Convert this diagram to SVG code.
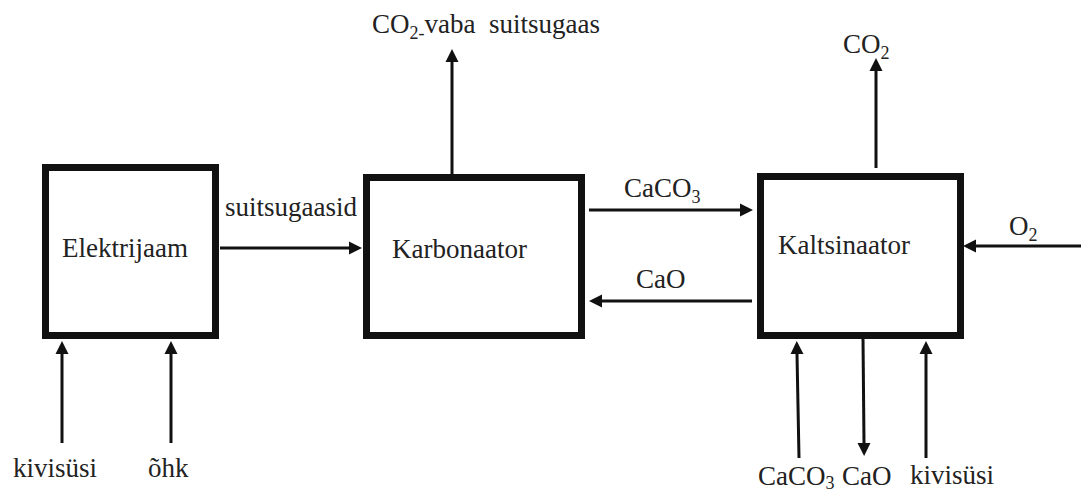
<svg xmlns="http://www.w3.org/2000/svg" width="1081" height="491" viewBox="0 0 1081 491">
<defs>
<style>
.box{fill:#fff;stroke:#111;stroke-width:7}
.ln{fill:none;stroke:#111;stroke-width:3;marker-end:url(#ah)}
.t{font-family:'Liberation Serif',Tinos,'Times New Roman',Times,serif;font-size:27px;fill:#222}
.sub{font-size:18px}
</style>
<marker id="ah" markerUnits="userSpaceOnUse" markerWidth="14" markerHeight="14" viewBox="0 -7 14 14" refX="0" refY="0" orient="auto">
<path d="M0,-6.5 L13,0 L0,6.5 z" fill="#111"/>
</marker>
</defs>
<rect width="1081" height="491" fill="#fff"/>
<g id="elektrijaam">
<rect class="box" x="45.5" y="167.5" width="170" height="168"/>
<text class="t" x="62" y="257">Elektrijaam</text>
</g>
<g id="karbonaator">
<rect class="box" x="366.5" y="177.5" width="215" height="158"/>
<text class="t" x="392" y="258">Karbonaator</text>
</g>
<g id="kaltsinaator">
<rect class="box" x="760.5" y="176.5" width="200" height="159"/>
<text class="t" x="778" y="254">Kaltsinaator</text>
</g>
<g id="connectors">
<line class="ln" x1="220" y1="248" x2="349" y2="248"/>
<line class="ln" x1="452" y1="174" x2="452" y2="62"/>
<line class="ln" x1="589" y1="210" x2="740" y2="210"/>
<line class="ln" x1="752" y1="301" x2="602" y2="301"/>
<line class="ln" x1="876" y1="168" x2="876" y2="71"/>
<line class="ln" x1="1081" y1="246" x2="976" y2="246"/>
<line class="ln" x1="799" y1="458" x2="797" y2="354"/>
<line class="ln" x1="863" y1="338" x2="864" y2="443"/>
<line class="ln" x1="926" y1="458" x2="926" y2="354"/>
<line class="ln" x1="62" y1="443" x2="62" y2="354"/>
<line class="ln" x1="171" y1="443" x2="171" y2="354"/>
</g>
<g id="labels">
<text class="t" x="225" y="216">suitsugaasid</text>
<text class="t" x="372" y="33">CO<tspan class="sub" dy="6">2-</tspan><tspan dy="-6">vaba&#160; suitsugaas</tspan></text>
<text class="t" x="624" y="197">CaCO<tspan class="sub" dy="6">3</tspan></text>
<text class="t" x="636" y="288">CaO</text>
<text class="t" x="843" y="53">CO<tspan class="sub" dy="6">2</tspan></text>
<text class="t" x="1009" y="235">O<tspan class="sub" dy="6">2</tspan></text>
<text class="t" x="758" y="485">CaCO<tspan class="sub" dy="4">3</tspan></text>
<text class="t" x="842" y="485">CaO</text>
<text class="t" x="910" y="484">kivisüsi</text>
<text class="t" x="13" y="477">kivisüsi</text>
<text class="t" x="148" y="477">õhk</text>
</g>
</svg>
